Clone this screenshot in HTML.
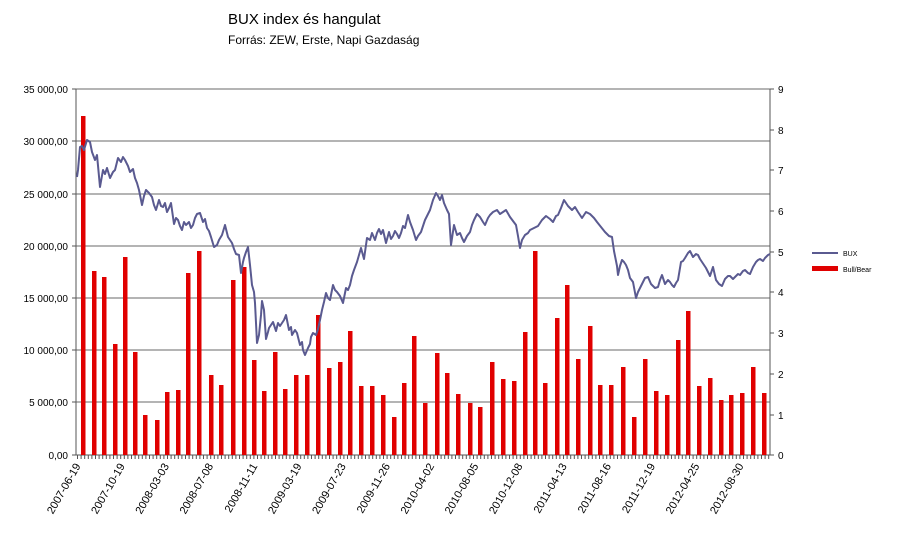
<!DOCTYPE html>
<html><head><meta charset="utf-8"><style>
html,body{margin:0;padding:0;background:#fff;}
svg{display:block;font-family:"Liberation Sans",sans-serif;}
</style></head><body>
<svg width="900" height="536" viewBox="0 0 900 536" xmlns="http://www.w3.org/2000/svg">
<text x="228" y="24" font-size="15" fill="#000">BUX index és hangulat</text>
<text x="228" y="44" font-size="12" fill="#000">Forrás: ZEW, Erste, Napi Gazdaság</text>
<g stroke="#888" stroke-width="1.3">
<line x1="76" y1="89" x2="770" y2="89"/><line x1="76" y1="141" x2="770" y2="141"/>
<line x1="76" y1="194" x2="770" y2="194"/><line x1="76" y1="246" x2="770" y2="246"/>
<line x1="76" y1="298" x2="770" y2="298"/><line x1="76" y1="350" x2="770" y2="350"/>
<line x1="76" y1="402" x2="770" y2="402"/>
</g>
<g stroke="#555" stroke-width="1">
<line x1="76" y1="89" x2="76" y2="455"/><line x1="770" y1="89" x2="770" y2="455"/>
<line x1="76" y1="455" x2="770" y2="455"/>
<line x1="72" y1="89" x2="76" y2="89"/><line x1="72" y1="141" x2="76" y2="141"/><line x1="72" y1="194" x2="76" y2="194"/><line x1="72" y1="246" x2="76" y2="246"/><line x1="72" y1="298" x2="76" y2="298"/><line x1="72" y1="350" x2="76" y2="350"/><line x1="72" y1="402" x2="76" y2="402"/><line x1="72" y1="455" x2="76" y2="455"/>
<line x1="770" y1="89" x2="774" y2="89"/><line x1="770" y1="130" x2="774" y2="130"/><line x1="770" y1="170" x2="774" y2="170"/><line x1="770" y1="211" x2="774" y2="211"/><line x1="770" y1="252" x2="774" y2="252"/><line x1="770" y1="292" x2="774" y2="292"/><line x1="770" y1="333" x2="774" y2="333"/><line x1="770" y1="374" x2="774" y2="374"/><line x1="770" y1="415" x2="774" y2="415"/><line x1="770" y1="455" x2="774" y2="455"/>
</g>
<line x1="77" y1="457" x2="770" y2="457" stroke="#555" stroke-width="4" stroke-dasharray="1 2.6"/>
<g font-size="10" fill="#000" text-anchor="end">
<text x="68" y="93">35 000,00</text><text x="68" y="145">30 000,00</text><text x="68" y="198">25 000,00</text><text x="68" y="250">20 000,00</text><text x="68" y="302">15 000,00</text><text x="68" y="354">10 000,00</text><text x="68" y="406">5 000,00</text><text x="68" y="459">0,00</text>
</g>
<g font-size="10" fill="#000">
<text x="778" y="93">9</text><text x="778" y="134">8</text><text x="778" y="174">7</text><text x="778" y="215">6</text><text x="778" y="256">5</text><text x="778" y="296">4</text><text x="778" y="337">3</text><text x="778" y="378">2</text><text x="778" y="419">1</text><text x="778" y="459">0</text>
</g>
<g fill="#e00000">
<rect x="81" y="116" width="4.5" height="339"/><rect x="92" y="271" width="4.5" height="184"/><rect x="102" y="277" width="4.5" height="178"/><rect x="113" y="344" width="4.5" height="111"/><rect x="123" y="257" width="4.5" height="198"/><rect x="133" y="352" width="4.5" height="103"/><rect x="143" y="415" width="4.5" height="40"/><rect x="155" y="420" width="4.5" height="35"/><rect x="165" y="392" width="4.5" height="63"/><rect x="176" y="390" width="4.5" height="65"/><rect x="186" y="273" width="4.5" height="182"/><rect x="197" y="251" width="4.5" height="204"/><rect x="209" y="375" width="4.5" height="80"/><rect x="219" y="385" width="4.5" height="70"/><rect x="231" y="280" width="4.5" height="175"/><rect x="242" y="267" width="4.5" height="188"/><rect x="252" y="360" width="4.5" height="95"/><rect x="262" y="391" width="4.5" height="64"/><rect x="273" y="352" width="4.5" height="103"/><rect x="283" y="389" width="4.5" height="66"/><rect x="294" y="375" width="4.5" height="80"/><rect x="305" y="375" width="4.5" height="80"/><rect x="316" y="315" width="4.5" height="140"/><rect x="327" y="368" width="4.5" height="87"/><rect x="338" y="362" width="4.5" height="93"/><rect x="348" y="331" width="4.5" height="124"/><rect x="359" y="386" width="4.5" height="69"/><rect x="370" y="386" width="4.5" height="69"/><rect x="381" y="395" width="4.5" height="60"/><rect x="392" y="417" width="4.5" height="38"/><rect x="402" y="383" width="4.5" height="72"/><rect x="412" y="336" width="4.5" height="119"/><rect x="423" y="403" width="4.5" height="52"/><rect x="435" y="353" width="4.5" height="102"/><rect x="445" y="373" width="4.5" height="82"/><rect x="456" y="394" width="4.5" height="61"/><rect x="468" y="403" width="4.5" height="52"/><rect x="478" y="407" width="4.5" height="48"/><rect x="490" y="362" width="4.5" height="93"/><rect x="501" y="379" width="4.5" height="76"/><rect x="512" y="381" width="4.5" height="74"/><rect x="523" y="332" width="4.5" height="123"/><rect x="533" y="251" width="4.5" height="204"/><rect x="543" y="383" width="4.5" height="72"/><rect x="555" y="318" width="4.5" height="137"/><rect x="565" y="285" width="4.5" height="170"/><rect x="576" y="359" width="4.5" height="96"/><rect x="588" y="326" width="4.5" height="129"/><rect x="598" y="385" width="4.5" height="70"/><rect x="609" y="385" width="4.5" height="70"/><rect x="621" y="367" width="4.5" height="88"/><rect x="632" y="417" width="4.5" height="38"/><rect x="643" y="359" width="4.5" height="96"/><rect x="654" y="391" width="4.5" height="64"/><rect x="665" y="395" width="4.5" height="60"/><rect x="676" y="340" width="4.5" height="115"/><rect x="686" y="311" width="4.5" height="144"/><rect x="697" y="386" width="4.5" height="69"/><rect x="708" y="378" width="4.5" height="77"/><rect x="719" y="400" width="4.5" height="55"/><rect x="729" y="395" width="4.5" height="60"/><rect x="740" y="393" width="4.5" height="62"/><rect x="751" y="367" width="4.5" height="88"/><rect x="762" y="393" width="4.5" height="62"/>
</g>
<polyline fill="none" stroke="#5a5a90" stroke-width="2" stroke-linejoin="round" points="77,177 78,170 80,147 82,146 84,150 87,140 90,142 92,152 95,160 97,155 100,187 103,170 105,174 107,168 110,178 113,172 115,170 118,158 121,162 123,157 125,160 128,166 130,172 133,169 135,178 137,183 139,190 142,205 144,196 146,190 149,193 152,197 154,205 156,210 159,200 161,206 163,207 165,203 167,212 169,208 171,203 174,224 176,218 178,220 180,226 182,230 184,222 186,225 189,222 191,228 193,225 195,218 197,214 200,213 203,222 205,219 207,228 209,231 211,237 214,247 217,245 219,240 222,235 225,225 228,237 230,240 232,243 234,249 236,254 239,255 241,273 243,262 244,258 246,252 248,247 250,265 252,285 254,292 255,303 257,343 259,335 261,315 262,301 264,310 266,339 268,332 269,328 271,325 273,322 276,331 278,323 280,326 282,323 284,320 286,315 289,330 291,327 292,335 295,330 297,333 300,345 302,342 303,350 305,355 308,348 310,344 311,337 313,333 316,335 318,329 320,320 322,310 324,302 326,293 328,298 330,300 333,285 335,290 337,292 340,296 343,303 346,288 348,290 350,285 352,276 354,270 357,262 359,255 361,248 364,259 366,245 367,238 370,240 372,233 375,240 377,233 379,229 381,234 383,230 386,243 389,232 391,239 393,236 395,231 397,234 399,238 401,233 403,226 405,228 408,215 410,222 413,230 416,240 418,236 421,232 423,226 425,220 428,214 430,210 433,200 436,193 438,196 440,200 442,195 444,203 447,210 449,214 451,245 454,225 457,235 460,233 462,238 464,242 467,236 470,232 472,225 474,220 477,214 480,217 483,222 485,225 488,218 490,215 493,212 497,210 500,214 503,212 506,210 510,217 513,221 516,225 518,236 520,248 522,240 525,235 528,233 530,230 534,228 538,226 542,220 546,216 550,219 553,222 556,216 558,215 561,208 564,200 566,203 568,206 572,210 575,207 578,212 582,218 586,212 590,214 594,218 597,222 601,227 605,232 609,236 612,237 614,251 617,266 618,275 620,266 622,260 624,262 626,265 628,270 630,278 633,282 636,298 638,292 640,288 643,282 645,278 648,277 651,284 653,286 655,288 658,287 660,280 662,275 665,284 668,280 670,282 672,285 674,287 676,283 678,280 681,262 683,261 685,258 688,253 690,251 693,257 696,254 698,255 700,259 702,262 706,268 708,272 710,276 713,267 716,280 719,284 722,286 725,279 728,276 730,276 733,279 735,277 738,274 740,275 743,271 745,270 748,273 750,274 753,267 756,262 758,260 760,259 763,261 765,258 768,255 770,254"/>
<g font-size="11" fill="#000" text-anchor="end">
<text transform="translate(81,466) rotate(-60)">2007-06-19</text>
<text transform="translate(125.2,466) rotate(-60)">2007-10-19</text>
<text transform="translate(169.4,466) rotate(-60)">2008-03-03</text>
<text transform="translate(213.6,466) rotate(-60)">2008-07-08</text>
<text transform="translate(257.8,466) rotate(-60)">2008-11-11</text>
<text transform="translate(302,466) rotate(-60)">2009-03-19</text>
<text transform="translate(346.2,466) rotate(-60)">2009-07-23</text>
<text transform="translate(390.4,466) rotate(-60)">2009-11-26</text>
<text transform="translate(434.6,466) rotate(-60)">2010-04-02</text>
<text transform="translate(478.8,466) rotate(-60)">2010-08-05</text>
<text transform="translate(523,466) rotate(-60)">2010-12-08</text>
<text transform="translate(567.2,466) rotate(-60)">2011-04-13</text>
<text transform="translate(611.4,466) rotate(-60)">2011-08-16</text>
<text transform="translate(655.6,466) rotate(-60)">2011-12-19</text>
<text transform="translate(699.8,466) rotate(-60)">2012-04-25</text>
<text transform="translate(744,466) rotate(-60)">2012-08-30</text>
</g>
<line x1="812" y1="253" x2="838" y2="253" stroke="#5a5a90" stroke-width="2"/>
<text x="843" y="256" font-size="7">BUX</text>
<rect x="812" y="266" width="26" height="5" fill="#e00000"/>
<text x="843" y="272" font-size="7">Bull/Bear</text>
</svg>
</body></html>
